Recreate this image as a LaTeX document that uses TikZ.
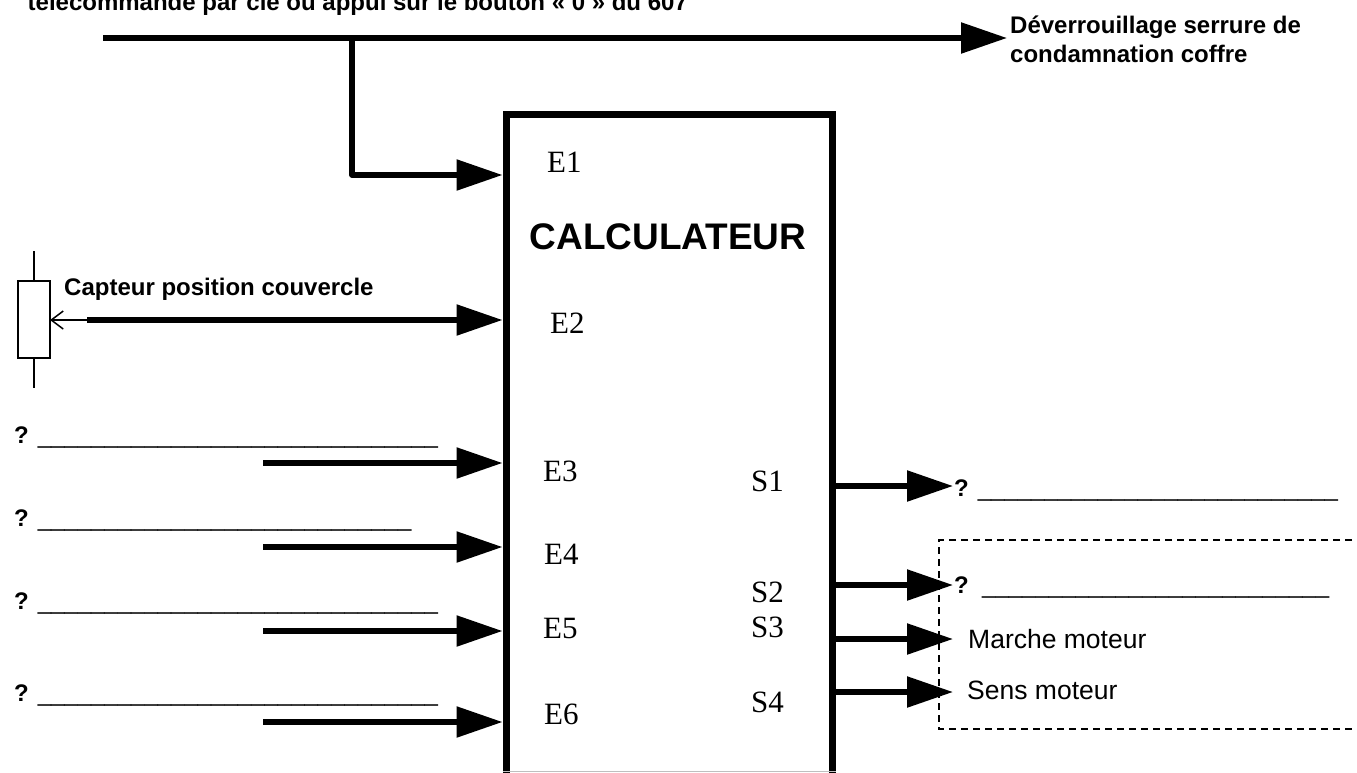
\documentclass[tikz,border=0pt]{standalone}
\usepackage{fontspec}
\setmainfont{Liberation Serif}
\newfontfamily\arialf{Liberation Sans}
\usetikzlibrary{arrows.meta}
\ExplSyntaxOn
\cs_new:Npn \usline #1 {\prg_replicate:nn{#1}{\_}}
\ExplSyntaxOff
\begin{document}
\begin{tikzpicture}[x=1pt,y=-1pt,
  bigarrow/.style={line width=5.5pt, -{Triangle[length=46pt,width=30pt]}},
  elbl/.style={font=\fontsize{31}{31}\selectfont, anchor=base west, inner sep=0pt},
  boldlbl/.style={font=\arialf\bfseries\fontsize{24}{29}\selectfont, anchor=base west, inner sep=0pt},
  plainlbl/.style={font=\arialf\fontsize{26.5}{29}\selectfont, anchor=base west, inner sep=0pt},
  blank/.style={font=\arialf\fontsize{24}{29}\selectfont, anchor=base west, inner sep=0pt},
  thinline/.style={line width=1.5pt}
]
\useasboundingbox (0,0) rectangle (1357,772);
\clip (0,0) rectangle (1357,772);

% top texts
\node[boldlbl] (toptxt) at (27.5,10) {télécommande par clé ou appui sur le bouton « 0 » du 607};
\node[boldlbl] (dev1) at (1010,33) {Déverrouillage serrure de};
\node[boldlbl] (dev2) at (1010,62) {condamnation coffre};

% calculator box
\node[draw, line width=7pt, minimum width=326pt, minimum height=760pt, inner sep=0pt, anchor=north west] (calc) at (502.5,110.5) {};
\node[font=\arialf\bfseries\fontsize{37}{40}\selectfont, anchor=base, inner sep=0pt] (title) at (668,249) {CALCULATEUR};
\draw[gray!50, line width=1pt] (calc.south west |- 0,771.5) -- (calc.south east |- 0,771.5);

% top line and E1
\coordinate (topstart) at (103,38);
\coordinate (toptip) at (1007,38);
\coordinate (br) at (352,38);
\draw[bigarrow] (topstart) -- (toptip);
\draw[bigarrow, line join=round] (br) |- (calc.west |- 0,175);
\node[elbl] (e1) at (547,172) {E1};

% sensor E2
\node[draw, thinline, minimum width=32pt, minimum height=77pt, inner sep=0pt, outer sep=0pt] (capt) at (34,319.5) {};
\coordinate (captup) at (34,251);
\coordinate (captdn) at (34,388);
\draw[thinline] (capt.north) -- (captup);
\draw[thinline] (capt.south) -- (captdn);
\coordinate (c2) at (87,320);
\draw[thinline, -{Straight Barb[length=12pt,width=18pt]}] (c2) -- (capt.east |- c2);
\draw[bigarrow] (c2) -- (calc.west |- c2);
\node[boldlbl] (capttxt) at (64,295) {Capteur position couvercle};
\node[elbl] (e2) at (550,333) {E2};

% inputs E3..E6
\coordinate (c3) at (263,463);
\coordinate (c4) at (263,547);
\coordinate (c5) at (263,631);
\coordinate (c6) at (263,722);
\draw[bigarrow] (c3) -- (calc.west |- c3);
\draw[bigarrow] (c4) -- (calc.west |- c4);
\draw[bigarrow] (c5) -- (calc.west |- c5);
\draw[bigarrow] (c6) -- (calc.west |- c6);
\node[blank] (q3) at (14,443) {{\bfseries ?} \usline{30}};
\node[blank] (q4) at (14,526) {{\bfseries ?} \usline{28}};
\node[blank] (q5) at (14,609) {{\bfseries ?} \usline{30}};
\node[blank] (q6) at (14,701) {{\bfseries ?} \usline{30}};
\node[elbl] (e3) at (543,481) {E3};
\node[elbl] (e4) at (544,564) {E4};
\node[elbl] (e5) at (543,638) {E5};
\node[elbl] (e6) at (544,724) {E6};

% outputs
\draw[thinline, dash pattern=on 7pt off 5pt] (1400,540) -| (939,729) -- (1400,729);
\coordinate (s1t) at (953,486);
\coordinate (s2t) at (953,585);
\coordinate (s3t) at (953,639);
\coordinate (s4t) at (953,692);
\draw[bigarrow] (calc.east |- s1t) -- (s1t);
\draw[bigarrow] (calc.east |- s2t) -- (s2t);
\draw[bigarrow] (calc.east |- s3t) -- (s3t);
\draw[bigarrow] (calc.east |- s4t) -- (s4t);
\node[elbl] (s1) at (751,491) {S1};
\node[elbl] (s2) at (751,602) {S2};
\node[elbl] (s3) at (751,637) {S3};
\node[elbl] (s4) at (751,712) {S4};
\node[blank] (o1) at (954,496) {{\bfseries ?} \usline{27}};
\node[blank] (o2) at (954,593) {{\bfseries ?}\ \ \usline{26}};
\node[plainlbl] (o3) at (968,648) {Marche moteur};
\node[plainlbl] (o4) at (967,699) {Sens moteur};
\end{tikzpicture}
\end{document}
